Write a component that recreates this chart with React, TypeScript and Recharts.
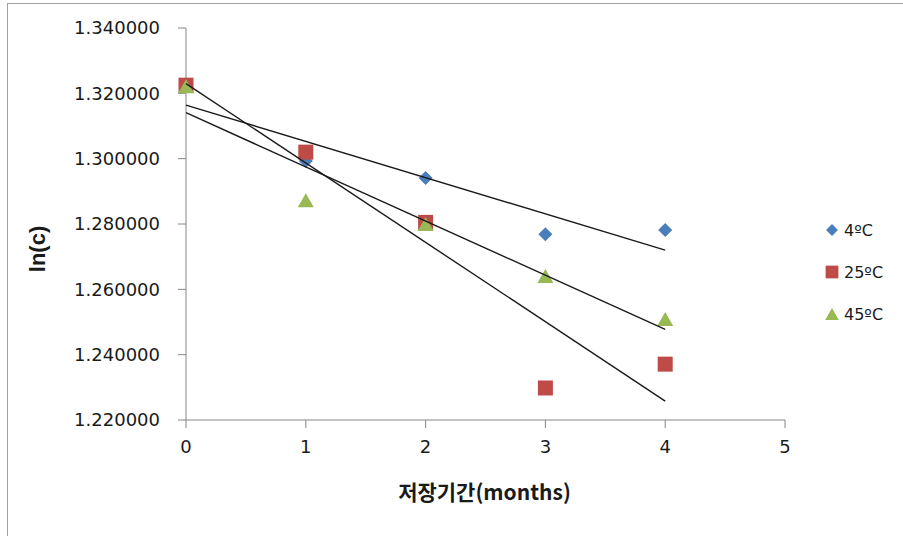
import React from "react";
import { ScatterChart, Scatter, XAxis, YAxis } from "recharts";

// storage months on the x axis
const months = [0, 1, 2, 3, 4];
const xTicks = [0, 1, 2, 3, 4, 5];
const yTicks = [1.22, 1.24, 1.26, 1.28, 1.3, 1.32, 1.34];

// ln(c) per storage temperature
const lnC4 = [1.3225, 1.2993, 1.2941, 1.2769, 1.2782];
const lnC25 = [1.3225, 1.302, 1.2805, 1.2298, 1.2371];
const lnC45 = [1.3222, 1.2873, 1.28, 1.2641, 1.2509];

const BLUE = "#4a7ebb";
const RED = "#be4b48";
const GREEN = "#98b954";

const toPoints = (ys: number[]) => months.map((x, i) => ({ x, y: ys[i] }));

// least-squares line, like Excel's linear trendline
function trend(ys: number[]) {
  const n = months.length;
  const mx = months.reduce((a, b) => a + b, 0) / n;
  const my = ys.reduce((a, b) => a + b, 0) / n;
  let sxy = 0;
  let sxx = 0;
  months.forEach((x, i) => {
    sxy += (x - mx) * (ys[i] - my);
    sxx += (x - mx) * (x - mx);
  });
  const slope = sxy / sxx;
  const b = my - slope * mx;
  const x0 = months[0];
  const x1 = months[n - 1];
  return [
    { x: x0, y: b + slope * x0 },
    { x: x1, y: b + slope * x1 },
  ];
}

const series = [
  { name: "4ºC", data: lnC4, color: BLUE, kind: "diamond" },
  { name: "25ºC", data: lnC25, color: RED, kind: "square" },
  { name: "45ºC", data: lnC45, color: GREEN, kind: "triangle" },
];

function Marker({ cx, cy, kind, color, s = 1 }: any) {
  if (cx == null || cy == null) return null;
  if (kind === "diamond") {
    const r = 7 * s;
    return (
      <path
        d={`M${cx},${cy - r}L${cx + r},${cy}L${cx},${cy + r}L${cx - r},${cy}Z`}
        fill={color}
      />
    );
  }
  if (kind === "square") {
    const r = 7.5 * s;
    return <rect x={cx - r} y={cy - r} width={2 * r} height={2 * r} fill={color} />;
  }
  const w = 8 * s;
  const h = 7 * s;
  return (
    <path d={`M${cx},${cy - h}L${cx + w},${cy + h}L${cx - w},${cy + h}Z`} fill={color} />
  );
}

const tickFont = {
  fontFamily: "'DejaVu Sans', sans-serif",
  fontSize: 18,
  fill: "#1a1a1a",
};

export default function App() {
  return (
    <div
      style={{
        position: "absolute",
        left: 0,
        top: 0,
        width: 903,
        height: 536,
        background: "#fff",
        overflow: "hidden",
      }}
    >
      <div
        style={{
          position: "absolute",
          left: 7,
          top: 3,
          width: 920,
          height: 560,
          borderTop: "1px solid #a0a0a0",
          borderLeft: "1px solid #a0a0a0",
        }}
      />
      <div style={{ position: "absolute", left: 0, top: 0 }}>
        <ScatterChart
          width={903}
          height={536}
          margin={{ top: 28, right: 118, bottom: 56, left: 0 }}
        >
          <XAxis
            type="number"
            dataKey="x"
            domain={[0, 5]}
            ticks={xTicks}
            interval={0}
            height={60}
            tick={tickFont}
            tickSize={8}
            tickMargin={12}
            stroke="#868686"
            label={(p: any) => {
              const vb = p.viewBox;
              return (
                <text
                  x={vb.x + vb.width / 2 - 1}
                  y={494}
                  textAnchor="middle"
                  dominantBaseline="middle"
                  fontFamily="'Noto Sans CJK KR', sans-serif"
                  fontWeight="bold"
                  fontSize={21}
                  fill="#1a1a1a"
                >
                  저장기간(months)
                </text>
              );
            }}
          />
          <YAxis
            type="number"
            dataKey="y"
            domain={[1.22, 1.34]}
            ticks={yTicks}
            interval={0}
            width={186}
            tick={tickFont}
            tickSize={8}
            tickMargin={18}
            tickFormatter={(v: number) => v.toFixed(6)}
            stroke="#868686"
            label={(p: any) => {
              const vb = p.viewBox;
              const cy = vb.y + vb.height / 2 + 25;
              return (
                <text
                  x={39}
                  y={cy}
                  transform={`rotate(-90, 39, ${cy})`}
                  textAnchor="middle"
                  dominantBaseline="middle"
                  fontFamily="'Liberation Sans', Arial, sans-serif"
                  fontWeight="bold"
                  fontSize={22}
                  fill="#1a1a1a"
                >
                  ln(c)
                </text>
              );
            }}
          />
          {series.map((s) => (
            <Scatter
              key={s.name}
              name={s.name}
              data={toPoints(s.data)}
              isAnimationActive={false}
              shape={(p: any) => <Marker cx={p.cx} cy={p.cy} kind={s.kind} color={s.color} />}
            />
          ))}
          {series.map((s) => (
            <Scatter
              key={s.name + "-trend"}
              data={trend(s.data)}
              isAnimationActive={false}
              line={{ stroke: "#1a1a1a", strokeWidth: 1.4 }}
              shape={() => <g />}
              legendType="none"
            />
          ))}
        </ScatterChart>
      </div>
      <div style={{ position: "absolute", left: 822, top: 209 }}>
        {series.map((s) => (
          <div
            key={s.name}
            style={{
              display: "flex",
              alignItems: "center",
              height: 42,
              fontFamily: "'DejaVu Sans', sans-serif",
              fontSize: 16,
              color: "#1a1a1a",
            }}
          >
            <svg width={20} height={20}>
              <Marker cx={10} cy={10} kind={s.kind} color={s.color} s={0.85} />
            </svg>
            <span style={{ marginLeft: 2 }}>{s.name}</span>
          </div>
        ))}
      </div>
    </div>
  );
}
